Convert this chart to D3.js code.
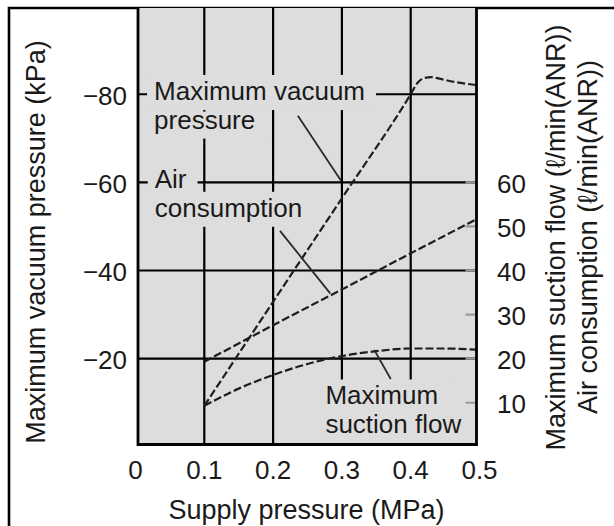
<!DOCTYPE html>
<html>
<head>
<meta charset="utf-8">
<script src="https://cdn.jsdelivr.net/npm/d3@7"></script>
<style>
  html, body { margin: 0; padding: 0; background: #fff; }
  svg { display: block; }
  text { font-family: "Liberation Sans", Arial, Helvetica, sans-serif; fill: #1a1a1a; }
</style>
</head>
<body>
<svg id="chart" width="614" height="526"></svg>
<script>
// Supply pressure (MPa) ticks and gridlines
const xTicks = [0, 0.1, 0.2, 0.3, 0.4, 0.5];
const xGrid = [0.1, 0.2, 0.3, 0.4];
// Left axis: maximum vacuum pressure (kPa, shown as negative)
const vacTicks = [80, 60, 40, 20];
const vacTickLabels = ["\u221280", "\u221260", "\u221240", "\u221220"];
// Right axis: flow (l/min(ANR))
const flowTicks = [10, 20, 30, 40, 50, 60];
const flowTickLabels = ["10", "20", "30", "40", "50", "60"];

// Maximum vacuum pressure curve (kPa magnitude)
const vacuumSupply = [0.1, 0.2, 0.3, 0.4, 0.41, 0.42, 0.43, 0.44, 0.46, 0.48, 0.5];
const vacuumKPa    = [9.3, 32.9, 56.4, 80.0, 82.6, 83.7, 83.9, 83.6, 82.9, 82.4, 82.0];
// Air consumption (l/min(ANR))
const airSupply = [0.1, 0.2, 0.3, 0.4, 0.5];
const airFlow   = [19.3, 27.6, 35.7, 43.9, 52.0];
// Maximum suction flow (l/min(ANR))
const suctionSupply = [0.1, 0.15, 0.2, 0.25, 0.3, 0.35, 0.4, 0.45, 0.5];
const suctionFlow   = [9.3, 13.2, 16.3, 18.8, 20.6, 21.7, 22.3, 22.3, 22.0];

// In-plot captions: lines of text anchored at (supply, value)
const captions = [
  { lines: ["Maximum vacuum", "pressure"], x: 0.027, y: [78.7, 72.2] },
  { lines: ["Air", "consumption"],         x: 0.028, y: [58.8, 52.2] },
  { lines: ["Maximum", "suction flow"],    x: 0.276, y: [9.6, 3.1] }
];
// Leader lines from captions to curves: [x1, y1, x2, y2] in data units
const leaders = [
  [0.236, 75.1, 0.299, 60.3],
  [0.210, 49.0, 0.283, 34.8],
  [0.347, 22.0, 0.371, 15.4]
];

const svg = d3.select("#chart");
const W = 614, H = 526;

const x = d3.scaleLinear().domain([0, 0.5]).range([135.5, 479.5]);
const y = d3.scaleLinear().domain([0, 100]).range([446.8, 6.1]);   // vacuum kPa magnitude
const yFlow = d3.scaleLinear().domain([0, 100]).range([446.8, 6.1]); // l/min(ANR)

// plot panel bounds
const pL = 138, pR = 476.5, pT = 8, pB = 444.5;

// outer frame
svg.append("path")
  .attr("d", `M9,${H + 5} L9,8 L${W + 5},8`)
  .attr("fill", "none").attr("stroke", "#000").attr("stroke-width", 2.6);

// panel background
svg.append("rect")
  .attr("x", pL).attr("y", pT).attr("width", pR - pL).attr("height", pB - pT)
  .attr("fill", "#dddddd");

svg.append("clipPath").attr("id", "plotClip")
  .append("rect").attr("x", pL).attr("y", pT).attr("width", pR - pL).attr("height", pB - pT);

const plot = svg.append("g").attr("clip-path", "url(#plotClip)");

// gridlines
plot.selectAll("line.gx").data(xGrid).join("line")
  .attr("x1", d => x(d)).attr("x2", d => x(d))
  .attr("y1", pT).attr("y2", pB)
  .attr("stroke", "#000").attr("stroke-width", 2.2);
plot.selectAll("line.gy").data(vacTicks).join("line")
  .attr("x1", pL).attr("x2", pR)
  .attr("y1", d => y(d)).attr("y2", d => y(d))
  .attr("stroke", "#000").attr("stroke-width", 2.2);

// right-axis ticks, drawn inside the panel
plot.selectAll("line.rt").data(flowTicks).join("line")
  .attr("x1", pR - 11).attr("x2", pR)
  .attr("y1", d => yFlow(d)).attr("y2", d => yFlow(d))
  .attr("stroke", "#9a9a9a").attr("stroke-width", 2.2);

// caption text (added first to measure, then backed by panel-coloured boxes)
const capLayer = svg.append("g");
const boxLayer = plot.append("g");
captions.forEach(c => {
  c.lines.forEach((t, i) => {
    const tx = x(c.x), ty = y(c.y[i]);
    const el = capLayer.append("text")
      .attr("x", tx).attr("y", ty)
      .attr("font-size", 26)
      .text(t);
    const len = el.node().getComputedTextLength();
    const top = (i === 0 || t.length > 8) ? ty - 25 : ty - 17;
    boxLayer.append("rect")
      .attr("x", tx - 7).attr("y", top)
      .attr("width", len + 18).attr("height", ty + 10 - top)
      .attr("fill", "#dddddd");
  });
});

// curves
const lineGen = (xs, ys, ysc, curve) => d3.line()
  .x((d, i) => x(xs[i])).y((d, i) => ysc(ys[i])).curve(curve)(xs);

const curveStyle = sel => sel.attr("fill", "none").attr("stroke", "#1e1e1e")
  .attr("stroke-width", 2.2).attr("stroke-dasharray", "8,3");

plot.append("path").attr("d", lineGen(vacuumSupply, vacuumKPa, y, d3.curveMonotoneX)).call(curveStyle);
plot.append("path").attr("d", lineGen(airSupply, airFlow, yFlow, d3.curveLinear)).call(curveStyle);
plot.append("path").attr("d", lineGen(suctionSupply, suctionFlow, yFlow, d3.curveMonotoneX)).call(curveStyle);

// leader lines
plot.selectAll("line.ld").data(leaders).join("line")
  .attr("x1", d => x(d[0])).attr("y1", d => y(d[1]))
  .attr("x2", d => x(d[2])).attr("y2", d => y(d[3]))
  .attr("stroke", "#2a2a2a").attr("stroke-width", 1.8);

// panel border
svg.append("path")
  .attr("d", `M${pL},${pT} L${pL},${pB} L${pR},${pB} L${pR},${pT}`)
  .attr("fill", "none").attr("stroke", "#000").attr("stroke-width", 2.8);

// bring captions above boxes and curves
capLayer.raise();

// left tick labels
svg.selectAll("text.lt").data(vacTicks).join("text")
  .attr("x", 127).attr("y", d => y(d)).attr("dy", "0.4em")
  .attr("text-anchor", "end").attr("font-size", 26)
  .text((d, i) => vacTickLabels[i]);

// right tick labels
svg.selectAll("text.rl").data(flowTicks).join("text")
  .attr("x", 526).attr("y", d => yFlow(d)).attr("dy", "0.4em")
  .attr("text-anchor", "end").attr("font-size", 26)
  .text((d, i) => flowTickLabels[i]);

// x tick labels
svg.selectAll("text.xt").data(xTicks).join("text")
  .attr("x", d => x(d)).attr("y", 479)
  .attr("text-anchor", "middle").attr("font-size", 26)
  .text(d => d === 0 ? "0" : d3.format(".1f")(d));

// axis titles
svg.append("text")
  .attr("x", 306.5).attr("y", 519)
  .attr("text-anchor", "middle").attr("font-size", 27)
  .text("Supply pressure (MPa)");

svg.append("text")
  .attr("transform", "translate(45,242) rotate(-90)")
  .attr("text-anchor", "middle").attr("font-size", 27)
  .text("Maximum vacuum pressure (kPa)");

svg.append("text")
  .attr("transform", "translate(565,237.5) rotate(-90)")
  .attr("text-anchor", "middle").attr("font-size", 27)
  .text("Maximum suction flow (\u2113/min(ANR))");

svg.append("text")
  .attr("transform", "translate(597,237) rotate(-90)")
  .attr("text-anchor", "middle").attr("font-size", 27)
  .text("Air consumption (\u2113/min(ANR))");
</script>
</body>
</html>
